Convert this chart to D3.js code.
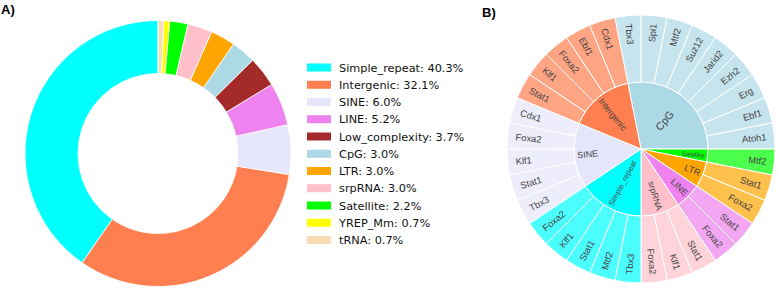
<!DOCTYPE html>
<html><head><meta charset="utf-8">
<script src="https://cdn.jsdelivr.net/npm/d3@7"></script>
<style>body{margin:0;background:#fff} svg{display:block}</style>
</head><body>
<svg id="c" width="778" height="290"></svg>
<script>
const donutLabels = ["Simple_repeat","Intergenic","SINE","LINE","Low_complexity","CpG","LTR","srpRNA","Satellite","YREP_Mm","tRNA"];
const donutValues = [40.3,32.1,6.0,5.2,3.7,3.0,3.0,3.0,2.2,0.7,0.7];
const donutColors = ["#00ffff","#ff7f50","#e6e6fa","#ee82ee","#a52a2a","#add8e6","#ffa500","#ffc0cb","#00ff00","#ffff00","#f5deb3"];

const sunParents = ["CpG","Satellite","LTR","LINE","srpRNA","Simple_repeat","SINE","Intergenic"];
const sunParentColors = ["#add8e6","#00ff00","#ffa500","#ee82ee","#ffc0cb","#00ffff","#e6e6fa","#ff7f50"];
const sunChildren = [
  ["Tbx3","Spi1","Mtf2","Suz12","Jarid2","Ezh2","Erg","Ebf1","Atoh1"],
  ["Mtf2"],
  ["Stat1","Foxa2"],
  ["Stat1","Foxa2"],
  ["Stat1","Klf1","Foxa2"],
  ["Tbx3","Mtf2","Stat1","Klf1","Foxa2"],
  ["Tbx3","Stat1","Klf1","Foxa2","Cdx1"],
  ["Stat1","Klf1","Foxa2","Ebf1","Cdx1"]
];
const sunLeafValue = 1;

// styles (not data)
const innerFont = {CpG:10.7, Satellite:6.5, LTR:9.2, LINE:9, srpRNA:8.6, Simple_repeat:7.8, SINE:8.8, Intergenic:8.9};
const outerFont = 9.4;
const sunFamily = "Liberation Sans, Arial, sans-serif";

const svg = d3.select("#c");

// ---------- Panel A: donut ----------
const A = {cx:158, cy:153.5, r:133, ri:80};
const pie = d3.pie().sort(null).value(d => d.v).startAngle(0).endAngle(-2*Math.PI);
const donutData = pie(donutLabels.map((l,i)=>({l, v:donutValues[i], c:donutColors[i]})));
const arcA = d3.arc().innerRadius(A.ri).outerRadius(A.r);
const gA = svg.append("g").attr("transform",`translate(${A.cx},${A.cy})`);
gA.selectAll("path").data(donutData).join("path")
  .attr("d", arcA).attr("fill", d=>d.data.c)
  .attr("stroke","#fff").attr("stroke-width",0.8);

// legend
const leg = svg.append("g").attr("transform","translate(307,67.5)");
const step = 17.25;
const li = leg.selectAll("g").data(donutData.map(d=>d.data)).join("g")
  .attr("transform",(d,i)=>`translate(0,${i*step})`);
li.append("rect").attr("x",0).attr("y",-4).attr("width",24).attr("height",8).attr("fill",d=>d.c);
li.append("text").attr("x",32).attr("y",0).attr("dy","0.36em")
  .attr("font-family","DejaVu Sans").attr("font-size",11.3).attr("fill","#111")
  .text(d=>`${d.l}: ${d.v.toFixed(1)}%`);

svg.append("text").attr("x",1).attr("y",14).attr("font-family","Liberation Sans, Arial")
  .attr("font-weight","bold").attr("font-size",13).text("A)");
svg.append("text").attr("x",482).attr("y",17).attr("font-family","Liberation Sans, Arial")
  .attr("font-weight","bold").attr("font-size",13).text("B)");

// ---------- Panel B: sunburst ----------
const B = {cx:641, cy:149, r:134};
const rootData = {name:"root", children: sunParents.map((p,i)=>({
  name:p, color:sunParentColors[i],
  children: sunChildren[i].map(c=>({name:c, value:sunLeafValue}))
}))};
const root = d3.hierarchy(rootData).sum(d=>d.value||0);
d3.partition().size([2*Math.PI, 3])(root);
const rS = d3.scaleLinear().domain([1,3]).range([0,B.r]);
const cpg = root.children[0];
const off = Math.PI/2 - cpg.x1;
const arcB = d3.arc()
  .startAngle(d=>d.x0+off).endAngle(d=>d.x1+off)
  .innerRadius(d=>rS(d.y0)).outerRadius(d=>rS(d.y1));
const gB = svg.append("g").attr("transform",`translate(${B.cx},${B.cy})`);
const nodes = root.descendants().filter(d=>d.depth>0);
const colorOf = d => d.depth===1 ? d.data.color : d.parent.data.color;
gB.selectAll("path").data(nodes).join("path")
  .attr("d",arcB).attr("fill",colorOf)
  .attr("fill-opacity", d=>d.depth===2?0.7:1)
  .attr("stroke","#fff").attr("stroke-width",1);

const lab = gB.selectAll("text").data(nodes).join("text")
  .attr("font-family",sunFamily).attr("fill","#444")
  .attr("text-anchor","middle").attr("dominant-baseline","central")
  .attr("font-size", d=> d.depth===1 ? innerFont[d.data.name] : outerFont)
  .text(d=>d.data.name);
lab.each(function(d){
  const w = this.getComputedTextLength();
  let deg = ((d.x0+d.x1)/2+off)*180/Math.PI;
  deg = ((deg%360)+360)%360;
  const span = (d.x1-d.x0)*180/Math.PI;
  let r;
  if(d.depth===1){
    r = span>60 ? rS(d.y1)*0.55 : rS(d.y1) - w/2 - 3;
  } else {
    r = rS(d.y1) - w/2 - 8;
  }
  const flip = deg>=180 ? 180 : 0;
  d3.select(this).attr("transform",`rotate(${deg-90}) translate(${r},0) rotate(${flip})`);
});
</script>
</body></html>
